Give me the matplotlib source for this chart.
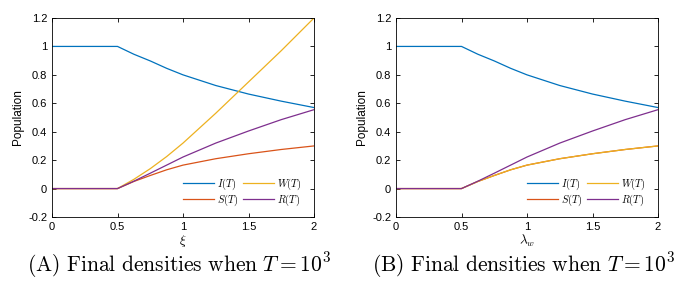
import numpy as np
import matplotlib
matplotlib.use("Agg")
import matplotlib.pyplot as plt

plt.rcParams['font.family'] = ['Liberation Sans', 'DejaVu Sans']
plt.rcParams['mathtext.fontset'] = 'cm'

# values
x = [0, 0.5, 0.625, 0.75, 0.875, 1.0, 1.25, 1.5, 1.75, 2.0]
I_vals = [1.0, 1.0, 0.945, 0.898, 0.846, 0.80, 0.725, 0.665, 0.615, 0.57]
S_vals = [0.0, 0.0, 0.05, 0.092, 0.132, 0.165, 0.21, 0.245, 0.275, 0.30]
W_a = [0.0, 0.0, 0.065, 0.14, 0.225, 0.32, 0.53, 0.75, 0.97, 1.2]
R_vals = [0.0, 0.0, 0.052, 0.108, 0.165, 0.222, 0.32, 0.405, 0.485, 0.555]
W_b = S_vals

xlabels = [r'$\xi$', r'$\lambda_w$']
captions = [r'$\mathrm{(A)\ Final\ densities\ when\ }T=10^3$',
            r'$\mathrm{(B)\ Final\ densities\ when\ }T=10^3$']
colors = ['#0072BD', '#D95319', '#EDB120', '#7E2F8E']
names = [r'$I(T)$', r'$S(T)$', r'$W(T)$', r'$R(T)$']

fig = plt.figure(figsize=(6.88, 2.88), dpi=100)
lefts = [52/688, 396/688]

for k, W in enumerate([W_a, W_b]):
    ax = fig.add_axes([lefts[k], 1-217/288, 262/688, 199/288])
    for y, c, n in zip([I_vals, S_vals, W, R_vals], colors, names):
        ax.plot(x, y, color=c, lw=0.9, label=n)
    ax.set_xlim(0, 2)
    ax.set_ylim(-0.2, 1.2)
    ax.set_xticks([0, 0.5, 1, 1.5, 2])
    ax.set_xticklabels(['0', '0.5', '1', '1.5', '2'])
    ax.set_yticks([-0.2, 0, 0.2, 0.4, 0.6, 0.8, 1, 1.2])
    ax.set_yticklabels(['-0.2', '0', '0.2', '0.4', '0.6', '0.8', '1', '1.2'])
    ax.tick_params(direction='in', top=True, right=True, labelsize=8, length=3, width=0.6)
    for s in ax.spines.values():
        s.set_linewidth(0.6)
    ax.set_ylabel('Population', fontsize=8.5, labelpad=3)
    ax.set_xlabel(xlabels[k], fontsize=9.5, labelpad=1)
    ax.legend(ncol=2, loc='lower right', frameon=False, fontsize=7.5,
              handlelength=3.0, columnspacing=0.4, handletextpad=0.3,
              labelspacing=0.08, borderpad=0, borderaxespad=0,
              bbox_to_anchor=(0.955, 0.045))
    fig.text(lefts[k] + 131/688 - 0.005, 1-265/288, captions[k], fontsize=15.5,
             ha='center', va='center')

plt.savefig('out.png', dpi=100)
